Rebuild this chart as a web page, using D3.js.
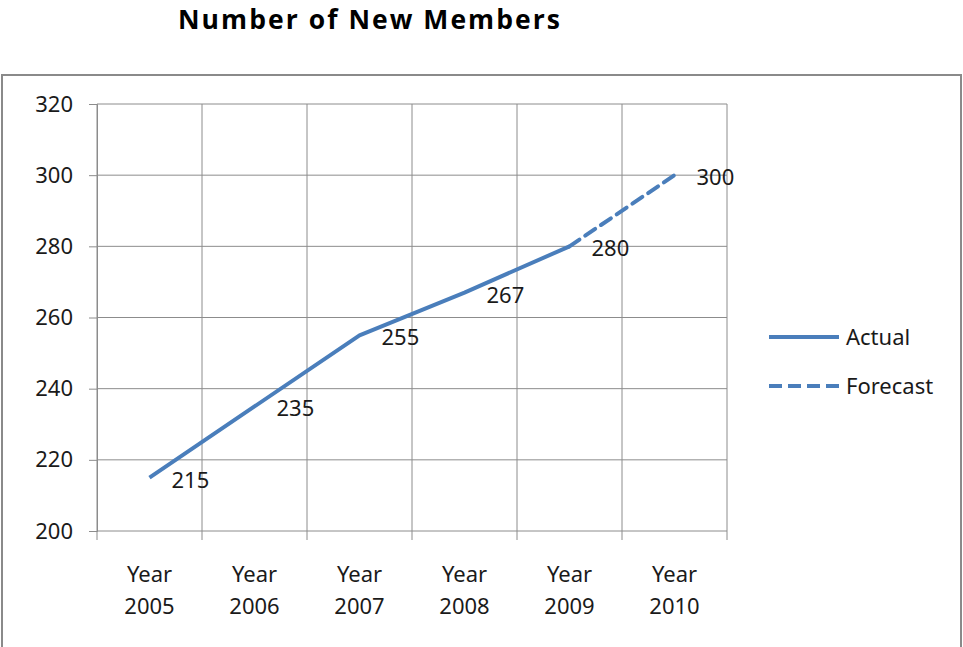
<!DOCTYPE html>
<html>
<head>
<meta charset="utf-8">
<script src="https://cdn.jsdelivr.net/npm/d3@7"></script>
<style>
  html, body { margin: 0; padding: 0; background: #fff; }
  svg { display: block; }
  text { font-family: "Noto Sans", "Liberation Sans", sans-serif; fill: #1a1a1a; }
</style>
</head>
<body>
<svg id="chart" width="963" height="647"></svg>
<script>
const categories = ["Year 2005", "Year 2006", "Year 2007", "Year 2008", "Year 2009", "Year 2010"];
const actualValues = [215, 235, 255, 267, 280, null];
const forecastValues = [null, null, null, null, 280, 300];
const labelValues = [215, 235, 255, 267, 280, 300];
const yTicks = [200, 220, 240, 260, 280, 300, 320];
const seriesNames = ["Actual", "Forecast"];
const chartTitle = "Number of New Members";

const svg = d3.select("#chart");
const plot = { left: 97, right: 727, top: 104, bottom: 531 };
const blue = "#4a7ebb";
const gridColor = "#8c8c8c";

// outer chart border
svg.append("rect").attr("x", 2).attr("y", 75).attr("width", 959).attr("height", 600)
  .attr("fill", "#fff").attr("stroke", "#8a8a8a").attr("stroke-width", 2);

// title
svg.append("text").attr("x", 369).attr("y", 29).attr("text-anchor", "middle")
  .attr("font-size", 26.5).attr("font-weight", "bold")
  .attr("textLength", 382).attr("lengthAdjust", "spacing")
  .style("font-family", "'Open Sans', 'Noto Sans', sans-serif")
  .style("fill", "#000").text(chartTitle);

const x = d3.scaleBand().domain(categories).range([plot.left, plot.right]).paddingInner(0).paddingOuter(0);
const y = d3.scaleLinear().domain([200, 320]).range([plot.bottom, plot.top]);

// left axis ticks and labels
const gy = svg.append("g").attr("transform", `translate(${plot.left},0)`)
  .call(d3.axisLeft(y).tickValues(yTicks).tickSize(8).tickPadding(16).tickFormat(d3.format("d")));
gy.select(".domain").attr("stroke", gridColor);
gy.selectAll(".tick line").attr("stroke", gridColor);
gy.selectAll(".tick text").attr("font-size", 22).style("fill", "#1a1a1a")
  .attr("font-family", "Noto Sans, Liberation Sans, sans-serif");

// horizontal gridlines
svg.append("g").selectAll("line").data(yTicks).join("line")
  .attr("x1", plot.left).attr("x2", plot.right)
  .attr("y1", d => y(d)).attr("y2", d => y(d))
  .attr("stroke", gridColor).attr("stroke-width", 1);

// vertical gridlines at category boundaries + bottom ticks
const bounds = categories.map(c => x(c)).concat([plot.right]);
svg.append("g").selectAll("line").data(bounds).join("line")
  .attr("x1", d => d).attr("x2", d => d)
  .attr("y1", plot.top).attr("y2", plot.bottom + 9)
  .attr("stroke", gridColor).attr("stroke-width", 1);

// x category labels (two lines)
const xl = svg.append("g").selectAll("text").data(categories).join("text")
  .attr("text-anchor", "middle").attr("font-size", 22);
xl.each(function(d) {
  const parts = d.split(" ");
  const t = d3.select(this);
  const cxp = x(d) + x.bandwidth() / 2;
  t.append("tspan").attr("x", cxp).attr("y", 582).text(parts[0]);
  t.append("tspan").attr("x", cxp).attr("y", 614).text(parts[1]);
});

const cx = (d, i) => x(categories[i]) + x.bandwidth() / 2;
const line = d3.line().defined(d => d != null).x(cx).y(d => y(d));

svg.append("path").datum(forecastValues).attr("d", line)
  .attr("fill", "none").attr("stroke", blue).attr("stroke-width", 4)
  .attr("stroke-dasharray", "12,7").attr("stroke-linecap", "round");
svg.append("path").datum(actualValues).attr("d", line)
  .attr("fill", "none").attr("stroke", blue).attr("stroke-width", 4)
  .attr("stroke-linejoin", "round");

// data labels (right of point)
svg.append("g").selectAll("text").data(labelValues).join("text")
  .attr("x", (d, i) => cx(d, i) + 22)
  .attr("y", d => y(d) + 10)
  .attr("font-size", 22).text(d => d);

// legend
const lg = svg.append("g");
const legendY = [337, 386];
lg.append("line").attr("x1", 769).attr("x2", 839).attr("y1", legendY[0]).attr("y2", legendY[0])
  .attr("stroke", blue).attr("stroke-width", 4);
lg.append("line").attr("x1", 769).attr("x2", 839).attr("y1", legendY[1]).attr("y2", legendY[1])
  .attr("stroke", blue).attr("stroke-width", 4).attr("stroke-dasharray", "13,6");
lg.selectAll("text").data(seriesNames).join("text")
  .attr("x", 846).attr("y", (d, i) => legendY[i] + 8)
  .attr("font-size", 22).text(d => d);
</script>
</body>
</html>
